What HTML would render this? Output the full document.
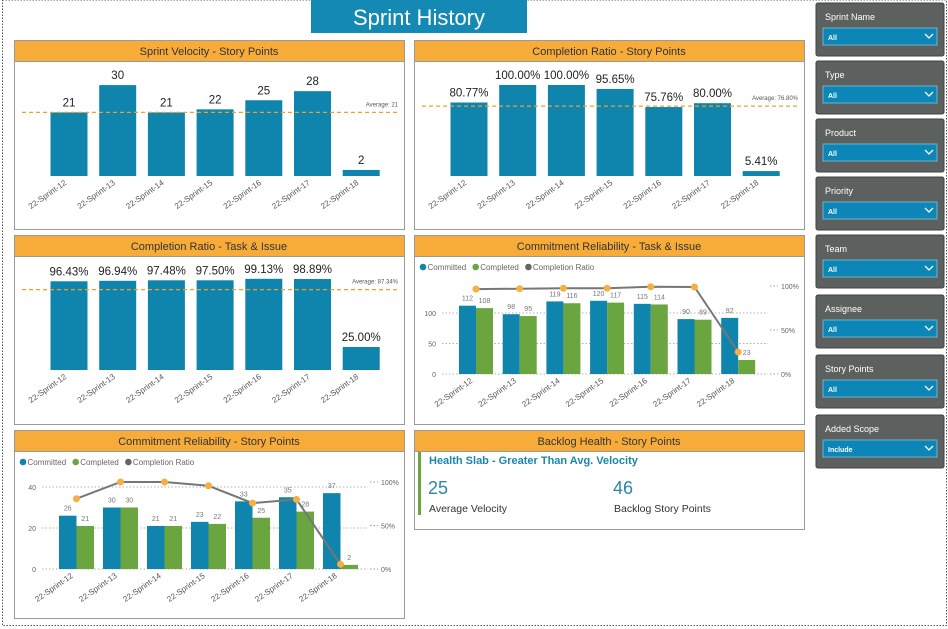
<!DOCTYPE html>
<html><head><meta charset="utf-8"><style>
html,body{margin:0;padding:0;background:#fff;}
svg{display:block;font-family:"Liberation Sans",sans-serif;}
</style></head><body>
<svg id="s" width="948" height="629" viewBox="0 0 948 629" xmlns="http://www.w3.org/2000/svg">
<rect x="2.5" y="0" width="944" height="625.5" fill="none" stroke="#555" stroke-dasharray="1.5,1.5"/>
<g>
<rect x="311" y="0" width="216" height="33" fill="#1489b3"/>
<text x="419" y="25" text-anchor="middle" fill="#fff" font-size="22">Sprint History</text>
</g>
<g id="panels"></g>
<g id="side"></g>
</svg>
<script>
const sprints = ['22-Sprint-12','22-Sprint-13','22-Sprint-14','22-Sprint-15','22-Sprint-16','22-Sprint-17','22-Sprint-18'];
const velocity = [21,30,21,22,25,28,2];
const velocityAvg = 21;
const crStory = [80.77,100,100,95.65,75.76,80,5.41];
const crStoryAvg = 76.80;
const crTask = [96.43,96.94,97.48,97.50,99.13,98.89,25.00];
const crTaskAvg = 87.34;
const tiCommitted = [112,98,119,120,115,90,92];
const tiCompleted = [108,95,116,117,114,89,23];
const tiRatio = [96.43,96.94,97.48,97.50,99.13,98.89,25.00];
const spCommitted = [26,30,21,23,33,35,37];
const spCompleted = [21,30,21,22,25,28,2];
const spRatio = [80.77,100,100,95.65,75.76,80,5.41];
const leftTicksTI = [0,50,100];
const leftTicksSP = [0,20,40];
const pctTicks = [0,50,100];
const slicerNames = ['Sprint Name','Type','Product','Priority','Team','Assignee','Story Points','Added Scope'];
const slicerValues = ['All','All','All','All','All','All','All','Include'];

const NS='http://www.w3.org/2000/svg';
const root=document.getElementById('panels');
const side=document.getElementById('side');
function mk(tag,attrs,parent,txt){const e=document.createElementNS(NS,tag);for(const k in attrs)e.setAttribute(k,attrs[k]);if(txt!==undefined)e.textContent=txt;parent.appendChild(e);return e;}

function panel(x,y,w,h,title,name){
  const g=mk('g',{},root);
  
  
  mk('rect',{x:x+.5,y:y+.5,width:w,height:h,fill:'#fff',stroke:'#9a9a9a'},g);
  mk('rect',{x:x+.5,y:y+.5,width:w,height:21,fill:'#f7ac3a',stroke:'#9a9a9a'},g);
  const t=mk('text',{x:x+w/2,y:y+15,'text-anchor':'middle','font-size':11,fill:'#333'},g,title);
  
  
  return g;
}
function xlabels(g,cx0,step,base){
  sprints.forEach((s,i)=>{
    const cx=cx0+i*step;
    const t=mk('text',{x:0,y:0,'text-anchor':'end','font-size':8,fill:'#555',transform:`translate(${cx},${base+8}) rotate(-35)`},g,s);
    
    
  });
}
function simpleBars(g,vals,fmt,cx0,step,base,scale,avg,avgTxt,px,pw){
  const y=v=>base-v*scale;
  vals.forEach((v,i)=>{
    const cx=cx0+i*step;
    const r=mk('rect',{x:cx-18.5,y:y(v),width:37,height:base-y(v),fill:'#0f84ad'},g);
    
    
    const t=mk('text',{x:cx,y:y(v)-6,'text-anchor':'middle','font-size':11.5,fill:'#222'},g,fmt(v));
    
    
  });
  const l=mk('line',{x1:px+8,x2:px+pw-6,y1:y(avg),y2:y(avg),stroke:'#f0a028','stroke-width':1.3,'stroke-dasharray':'4,3'},g);
  
  
  const at=mk('text',{x:px+pw-6,y:y(avg)-6,'text-anchor':'end','font-size':6,fill:'#555'},g,avgTxt);
  
  
  xlabels(g,cx0-2,step,base);
}
function comboChart(g,px,py,comm,compl,ratio,lticks,lmax,base,lpx,rpx,x0,step,bw){
  const leg=[['Committed','#0f84ad'],['Completed','#6aa540'],['Completion Ratio','#666']];
  let lx=px+6;
  leg.forEach(([n,c])=>{
    const lg=mk('g',{},g);
    
    
    mk('circle',{cx:lx+3,cy:py+32,r:3.3,fill:c},lg);
    mk('text',{x:lx+7.5,y:py+35,'font-size':8,fill:'#666'},lg,n);
    lx+=n.length*4.3+14;
  });
  const yl=v=>base-v*(lpx/lmax);
  const yr=v=>base-v*(rpx/100);
  const gx1=px+28,gx2=px+354;
  lticks.forEach(t=>{
    const gl=mk('line',{x1:gx1,x2:gx2,y1:yl(t),y2:yl(t),stroke:'#999','stroke-dasharray':'1.5,2','stroke-width':0.8},g);
    
    
    const tt=mk('text',{x:px+22,y:yl(t)+3,'text-anchor':'end','font-size':7,fill:'#666'},g,String(t));
    
    
  });
  pctTicks.forEach(t=>{
    mk('line',{x1:px+356,x2:px+364,y1:yr(t),y2:yr(t),stroke:'#999','stroke-dasharray':'1.5,2'},g);
    const tt=mk('text',{x:px+367,y:yr(t)+3,'font-size':7,fill:'#666'},g,t+'%');
    
    
  });
  comm.forEach((v,i)=>{
    const x=x0+i*step;
    const r1=mk('rect',{x:x,y:yl(v),width:bw,height:base-yl(v),fill:'#0f84ad'},g);
    
    
    const r2=mk('rect',{x:x+bw,y:yl(compl[i]),width:bw,height:base-yl(compl[i]),fill:'#6aa540'},g);
    
    
    mk('text',{x:x+bw/2,y:yl(v)-5,'text-anchor':'middle','font-size':7,fill:'#777'},g,String(v));
    mk('text',{x:x+bw*1.5,y:yl(compl[i])-5,'text-anchor':'middle','font-size':7,fill:'#777'},g,String(compl[i]));
  });
  const pts=ratio.map((v,i)=>[x0+i*step+bw,yr(v)]);
  const pl=mk('polyline',{points:pts.map(p=>p.join(',')).join(' '),fill:'none',stroke:'#777','stroke-width':2},g);
  
  
  pts.forEach((p,i)=>{
    const c=mk('circle',{cx:p[0],cy:p[1],r:3.5,fill:'#f5b041'},g);
    
    
  });
  xlabels(g,x0+bw-3,step,base);
}

let g=panel(14,40,390,189,'Sprint Velocity - Story Points','sprint-velocity-panel');
simpleBars(g,velocity,v=>String(v),69,48.7,176,3.03,velocityAvg,'Average: '+velocityAvg,14,390);
g=panel(414,40,390,189,'Completion Ratio - Story Points','completion-ratio-story-panel');
simpleBars(g,crStory,v=>v.toFixed(2)+'%',469,48.7,176,0.91,crStoryAvg,'Average: '+crStoryAvg.toFixed(2)+'%',414,390);
g=panel(14,235,390,189,'Completion Ratio - Task & Issue','completion-ratio-task-panel');
simpleBars(g,crTask,v=>v.toFixed(2)+'%',69,48.7,370,0.92,crTaskAvg,'Average: '+crTaskAvg.toFixed(2)+'%',14,390);
g=panel(414,235,390,189,'Commitment Reliability - Task & Issue','commitment-reliability-task-panel');
comboChart(g,414,235,tiCommitted,tiCompleted,tiRatio,leftTicksTI,100,374,61,88,459,43.7,17);
g=panel(14,430,390,188,'Commitment Reliability - Story Points','commitment-reliability-story-panel');
comboChart(g,14,430,spCommitted,spCompleted,spRatio,leftTicksSP,40,569,82,87,59,44,17.5);

g=panel(414,430,390,99,'Backlog Health - Story Points','backlog-health-panel');
mk('rect',{x:418,y:452,width:3,height:63,fill:'#6aa540'},g);
let t=mk('text',{x:429,y:464,'font-size':11,'font-weight':'bold',fill:'#1b86ad'},g,'Health Slab - Greater Than Avg. Velocity');


t=mk('text',{x:428,y:494,'font-size':18,fill:'#2b86ad'},g,'25');


mk('text',{x:429,y:512,'font-size':10.5,fill:'#333'},g,'Average Velocity');
t=mk('text',{x:613,y:494,'font-size':18,fill:'#2b86ad'},g,'46');


mk('text',{x:614,y:512,'font-size':10.5,fill:'#333'},g,'Backlog Story Points');

const tops=[3,61,119,177,235,295,355,415];
slicerNames.forEach((n,i)=>{
  const y=tops[i];
  const sg=mk('g',{},side);
  
  
  mk('rect',{x:816,y:y,width:128,height:53,rx:2,fill:'#5c615f',stroke:'#3f4341'},sg);
  mk('text',{x:825,y:y+17,'font-size':9,fill:'#fff'},sg,n);
  const dd=mk('g',{},sg);
  
  
  mk('rect',{x:823,y:y+25,width:114,height:17,fill:'#0b86b6',stroke:'#7fc3dd','stroke-width':0.8},dd);
  mk('text',{x:828,y:y+37,'font-size':7,'font-weight':'bold',fill:'#fff'},dd,slicerValues[i]);
  mk('polyline',{points:`${925},${y+31} ${929},${y+35} ${933},${y+31}`,fill:'none',stroke:'#fff','stroke-width':1.3},dd);
});
</script>
</body></html>
